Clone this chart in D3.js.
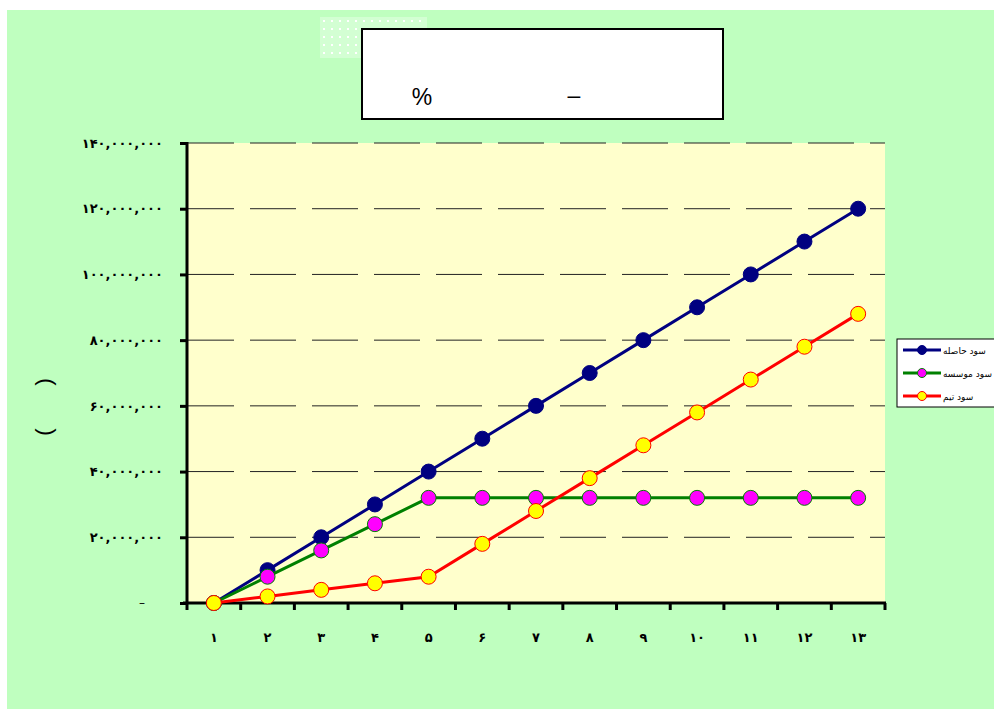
<!DOCTYPE html>
<html>
<head>
<meta charset="utf-8">
<script src="https://cdn.jsdelivr.net/npm/d3@7/dist/d3.min.js"></script>
<style>
  html, body { margin: 0; padding: 0; background: #ffffff; }
  svg { display: block; font-family: "DejaVu Sans", sans-serif; }
</style>
</head>
<body>
<svg id="chart" width="994" height="709"></svg>
<script>
// Periods (Persian numerals)
const categories = ["۱","۲","۳","۴","۵","۶","۷","۸","۹","۱۰","۱۱","۱۲","۱۳"];

// Series values (Rials)
const seriesNames = ["سود حاصله", "سود موسسه", "سود تیم"];
const totalProfit = [0, 10e6, 20e6, 30e6, 40e6, 50e6, 60e6, 70e6, 80e6, 90e6, 100e6, 110e6, 120e6];
const firmProfit  = [0, 8e6, 16e6, 24e6, 32e6, 32e6, 32e6, 32e6, 32e6, 32e6, 32e6, 32e6, 32e6];
const teamProfit  = [0, 2e6, 4e6, 6e6, 8e6, 18e6, 28e6, 38e6, 48e6, 58e6, 68e6, 78e6, 88e6];

// Y-axis ticks
const yTicks = [0, 20e6, 40e6, 60e6, 80e6, 100e6, 120e6, 140e6];

const styles = [
  { line: "#000080", fill: "#000080", stroke: "#000080" },
  { line: "#008000", fill: "#ff00ff", stroke: "#008000" },
  { line: "#ff0000", fill: "#ffff00", stroke: "#ff0000" }
];
const seriesData = [totalProfit, firmProfit, teamProfit];

const persianDigits = "۰۱۲۳۴۵۶۷۸۹";
const toPersian = s => String(s).replace(/[0-9]/g, d => persianDigits[+d]);
const fmt = v => v === 0 ? "–" : toPersian(d3.format(",")(v));

const svg = d3.select("#chart");

// Chart area background
svg.append("rect").attr("x", 7).attr("y", 10).attr("width", 987).attr("height", 699).attr("fill", "#bfffbf");

// Dotted decoration behind the title
const defs = svg.append("defs");
const pat = defs.append("pattern").attr("id", "dots").attr("width", 8).attr("height", 8)
  .attr("patternUnits", "userSpaceOnUse").attr("x", 320).attr("y", 17);
pat.append("rect").attr("width", 8).attr("height", 8).attr("fill", "#d3ffd3");
pat.append("rect").attr("x", 3).attr("y", 3).attr("width", 2).attr("height", 2).attr("fill", "#ffffff");
svg.append("rect").attr("x", 320).attr("y", 17).attr("width", 107).attr("height", 41).attr("fill", "url(#dots)");

// Title box
svg.append("rect").attr("x", 362).attr("y", 29).attr("width", 361).attr("height", 90)
  .attr("fill", "#ffffff").attr("stroke", "#000").attr("stroke-width", 2);
svg.append("text").attr("x", 422).attr("y", 105).attr("text-anchor", "middle")
  .style("font-size", "23px").style("font-family", "'Liberation Sans Narrow', 'Liberation Sans', sans-serif").text("%");
svg.append("text").attr("x", 574).attr("y", 103).attr("text-anchor", "middle")
  .style("font-size", "23px").style("font-family", "'Liberation Sans', sans-serif").text("–");

// Scales
const x = d3.scaleBand().domain(categories).range([187, 885]).padding(0);
const y = d3.scaleLinear().domain([0, 140e6]).range([603, 143]);
const cx = c => x(c) + x.bandwidth() / 2;

// Plot area
svg.append("rect").attr("x", 187).attr("y", y(140e6)).attr("width", 885 - 187).attr("height", y(0) - y(140e6))
  .attr("fill", "#ffffcc");

// Dashed gridlines
svg.append("g").selectAll("line").data(yTicks.filter(v => v > 0)).join("line")
  .attr("x1", 188).attr("x2", 885).attr("y1", d => y(d)).attr("y2", d => y(d))
  .attr("stroke", "#222").attr("stroke-width", 1).attr("stroke-dasharray", "46,16");

// Y axis
const yAxis = svg.append("g").attr("transform", "translate(187,0)")
  .call(d3.axisLeft(y).tickValues(yTicks).tickFormat(fmt).tickSize(7).tickPadding(17));
yAxis.attr("font-family", null).attr("font-size", null);
yAxis.select(".domain").attr("stroke", "#000").attr("stroke-width", 3).attr("d", `M0,${y(140e6) - 1}V${y(0) + 1}`);
yAxis.selectAll(".tick line").attr("stroke", "#000").attr("stroke-width", 3);
yAxis.selectAll(".tick text").style("font-size", "13px").style("font-weight", "bold").attr("fill", "#000");
yAxis.selectAll(".tick").filter(d => d === 0).select("text").attr("x", -42).style("font-weight", "normal")
  .style("font-size", "12px");

// X axis with ticks at category boundaries
const xAxis = svg.append("g");
xAxis.append("line").attr("x1", 183).attr("x2", 886).attr("y1", y(0)).attr("y2", y(0))
  .attr("stroke", "#000").attr("stroke-width", 3);
const bounds = categories.map(c => x(c)).concat([x.range()[1]]);
xAxis.selectAll("line.tick").data(bounds).join("line").attr("class", "tick")
  .attr("x1", d => d).attr("x2", d => d).attr("y1", y(0)).attr("y2", y(0) + 7)
  .attr("stroke", "#000").attr("stroke-width", 3);
xAxis.selectAll("text").data(categories).join("text")
  .attr("x", d => cx(d)).attr("y", 642).attr("text-anchor", "middle")
  .style("font-size", "13px").style("font-weight", "bold").text(d => d);

// Y axis title (rotated parentheses)
svg.append("text").attr("transform", "translate(51,407) rotate(-90)").attr("text-anchor", "middle")
  .style("font-size", "22px").style("font-family", "'Liberation Sans', sans-serif")
  .style("white-space", "pre").text("(       )");

// Series lines and markers
const line = d3.line().x((d, i) => cx(categories[i])).y(d => y(d));
seriesData.forEach((vals, k) => {
  const g = svg.append("g");
  g.append("path").datum(vals).attr("d", line).attr("fill", "none")
    .attr("stroke", styles[k].line).attr("stroke-width", 3);
  g.selectAll("circle").data(vals).join("circle")
    .attr("cx", (d, i) => cx(categories[i])).attr("cy", d => y(d)).attr("r", 7.5)
    .attr("fill", styles[k].fill).attr("stroke", styles[k].stroke).attr("stroke-width", 1);
});

// Legend
const legend = svg.append("g");
legend.append("rect").attr("x", 897).attr("y", 339).attr("width", 110).attr("height", 68)
  .attr("fill", "#ffffff").attr("stroke", "#000").attr("stroke-width", 1);
seriesNames.forEach((name, k) => {
  const ly = 350 + k * 23;
  legend.append("line").attr("x1", 903).attr("x2", 941).attr("y1", ly).attr("y2", ly)
    .attr("stroke", styles[k].line).attr("stroke-width", 3);
  legend.append("circle").attr("cx", 922).attr("cy", ly).attr("r", 4.5)
    .attr("fill", styles[k].fill).attr("stroke", styles[k].stroke).attr("stroke-width", 1);
  legend.append("text").attr("x", 943).attr("y", ly + 4).style("font-size", "9px")
    .attr("direction", "rtl").attr("text-anchor", "end").text(name);
});
</script>
</body>
</html>
